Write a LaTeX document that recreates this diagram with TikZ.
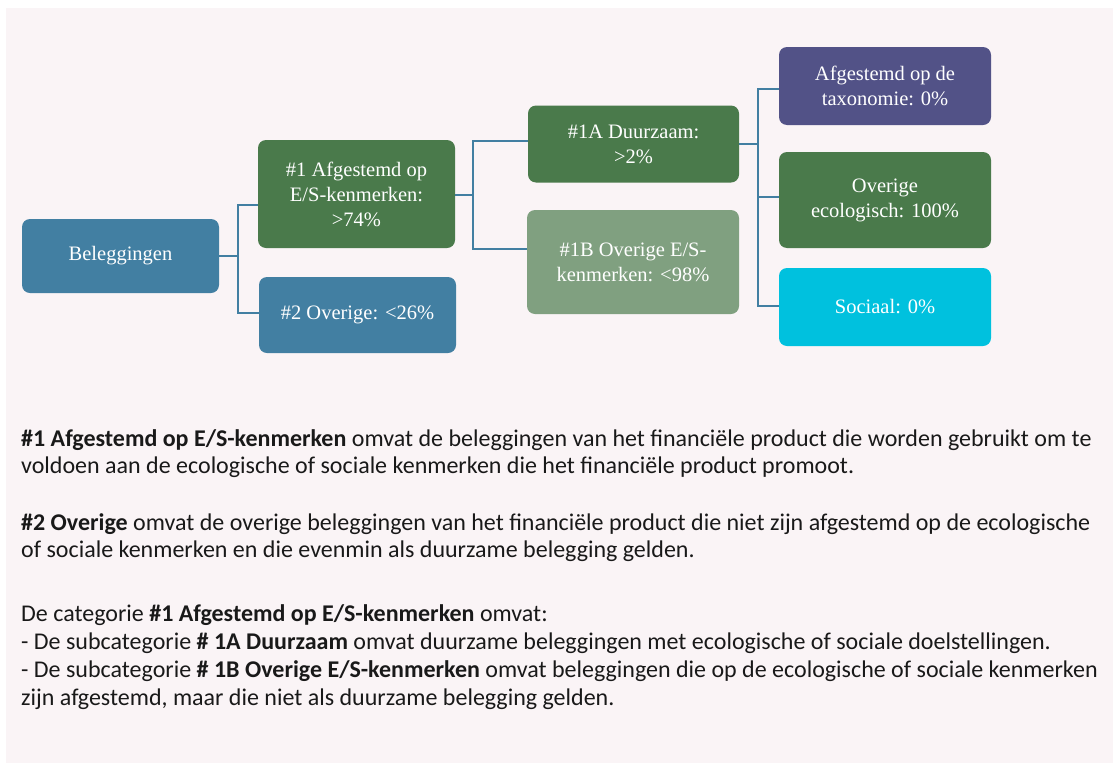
\documentclass[tikz,border=0pt]{standalone}
\usepackage{fontspec}
\setmainfont{Liberation Serif}
\newfontfamily\notefont{Carlito}
\usetikzlibrary{calc}
\definecolor{bgpink}{RGB}{250,244,246}
\definecolor{boxblue}{RGB}{66,127,162}
\definecolor{boxgreen}{RGB}{74,122,75}
\definecolor{boxsage}{RGB}{128,160,128}
\definecolor{boxpurple}{RGB}{82,82,135}
\definecolor{boxcyan}{RGB}{0,193,222}
\begin{document}
\begin{tikzpicture}[x=1pt,y=1pt,yscale=-1,
  box/.style={rounded corners=8pt,text=white,align=center,inner sep=0pt,font=\fontsize{20.5}{25}\selectfont},
  link/.style={draw=boxblue,line width=2.2pt}]
\useasboundingbox (0,0) rectangle (1113,763);
\fill[bgpink] (6,8) rectangle (1113,763);
\node[box,fill=boxblue,minimum width=197pt,minimum height=74pt] (beleg) at (120.5,256) {Beleggingen};
\node[box,fill=boxgreen,minimum width=197pt,minimum height=108pt] (afg) at (356.5,194) {\#1 Afgestemd op\\E/S-kenmerken:\\>74\%};
\node[box,fill=boxblue,minimum width=197pt,minimum height=76pt] (ovr) at (357.5,315) {\#2 Overige: <26\%};
\node[box,fill=boxgreen,minimum width=211pt,minimum height=77pt] (duur) at (633.5,144) {\#1A Duurzaam:\\>2\%};
\node[box,fill=boxsage,minimum width=212pt,minimum height=104pt] (ovres) at (633,262) {\#1B Overige E/S-\\kenmerken: <98\%};
\node[box,fill=boxpurple,minimum width=212pt,minimum height=78pt] (taxo) at (885,86) {Afgestemd op de\\taxonomie: 0\%};
\node[box,fill=boxgreen,minimum width=212pt,minimum height=96pt] (ecol) at (885,200) {Overige\\ecologisch: 100\%};
\node[box,fill=boxcyan,minimum width=212pt,minimum height=78pt] (soc) at (885,307) {Sociaal: 0\%};
\draw[link] (beleg.east) -- ++(19,0) |- ($(afg.west)+(0,11)$);
\draw[link] (beleg.east) -- ++(19,0) |- ($(ovr.west)+(0,-2)$);
\draw[link] ($(afg.east)+(0,1)$) -- ++(18,0) |- ($(duur.west)+(0,-3)$);
\draw[link] ($(afg.east)+(0,1)$) -- ++(18,0) |- ($(ovres.west)+(0,-13)$);
\draw[link] (duur.east) -- ++(19,0) |- ($(taxo.west)+(0,3)$);
\draw[link] (duur.east) -- ++(19,0) |- ($(ecol.west)+(0,-3)$);
\draw[link] (duur.east) -- ++(19,0) |- ($(soc.west)+(0,-1)$);
\node[anchor=north west,inner sep=0pt,align=left,text=black!90,font=\notefont\fontsize{24}{27.8}\selectfont] (notes) at (21,429) {%
\textbf{\#1 Afgestemd op E/S-kenmerken} omvat de beleggingen van het financiële product die worden gebruikt om te\\
voldoen aan de ecologische of sociale kenmerken die het financiële product promoot.\\[28.5pt]
\textbf{\#2 Overige} omvat de overige beleggingen van het financiële product die niet zijn afgestemd op de ecologische\\
of sociale kenmerken en die evenmin als duurzame belegging gelden.\\[36pt]
De categorie \textbf{\#1 Afgestemd op E/S-kenmerken} omvat:\\
- De subcategorie \textbf{\# 1A Duurzaam} omvat duurzame beleggingen met ecologische of sociale doelstellingen.\\
- De subcategorie \textbf{\# 1B Overige E/S-kenmerken} omvat beleggingen die op de ecologische of sociale kenmerken\\
zijn afgestemd, maar die niet als duurzame belegging gelden.};
\end{tikzpicture}
\end{document}
